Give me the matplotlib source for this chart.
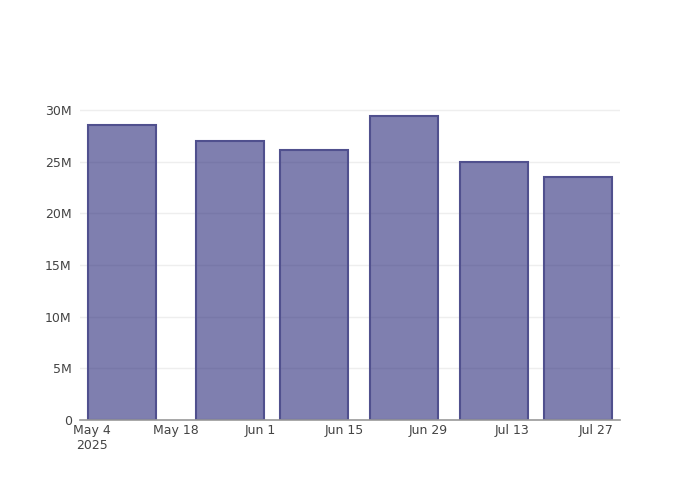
import matplotlib
matplotlib.use('Agg')
import matplotlib.pyplot as plt
import matplotlib.ticker as mticker
import numpy as np
from datetime import datetime

# data
dates = ['2025-05-09', '2025-05-27', '2025-06-10', '2025-06-25', '2025-07-10', '2025-07-24']
values = [28.5e6, 27.0e6, 26.1e6, 29.4e6, 25.0e6, 23.5e6]
tick_dates = ['2025-05-04', '2025-05-18', '2025-06-01', '2025-06-15', '2025-06-29', '2025-07-13', '2025-07-27']
tick_labels = ['May 4\n2025', 'May 18', 'Jun 1', 'Jun 15', 'Jun 29', 'Jul 13', 'Jul 27']

x = [datetime.strptime(d, '%Y-%m-%d') for d in dates]
ticks = [datetime.strptime(d, '%Y-%m-%d') for d in tick_dates]

fig = plt.figure(figsize=(7, 5), dpi=100)
ax = fig.add_axes([80 / 700, 80 / 500, 540 / 700, 320 / 500])

# semi-transparent fill so the grid shows through faintly, like the original
ax.bar(x, values, width=11.2, facecolor=(0.165, 0.165, 0.48, 0.6),
       edgecolor='#50508e', linewidth=1.5, zorder=3)

ax.set_xlim(datetime(2025, 5, 2), datetime(2025, 7, 31))
ax.set_ylim(0, 30.95e6)

ax.set_xticks(ticks)
ax.set_xticklabels(tick_labels)
ax.set_yticks(np.arange(0, 31e6, 5e6))
ax.yaxis.set_major_formatter(mticker.FuncFormatter(lambda v, p: '0' if v == 0 else '%dM' % (v / 1e6)))

ax.tick_params(axis='both', length=0, labelsize=9, labelcolor='#444444')
ax.tick_params(axis='x', pad=3)
ax.tick_params(axis='y', pad=6)
ax.get_xticklabels()[0].set_multialignment('center')

ax.grid(axis='y', color='#eeeeee', linewidth=1, zorder=0)
for s in ['top', 'right', 'left']:
    ax.spines[s].set_visible(False)
ax.spines['bottom'].set_color('#999999')
ax.spines['bottom'].set_linewidth(1.2)
ax.spines['bottom'].set_zorder(4)

fig.savefig('out.png', dpi=100)
